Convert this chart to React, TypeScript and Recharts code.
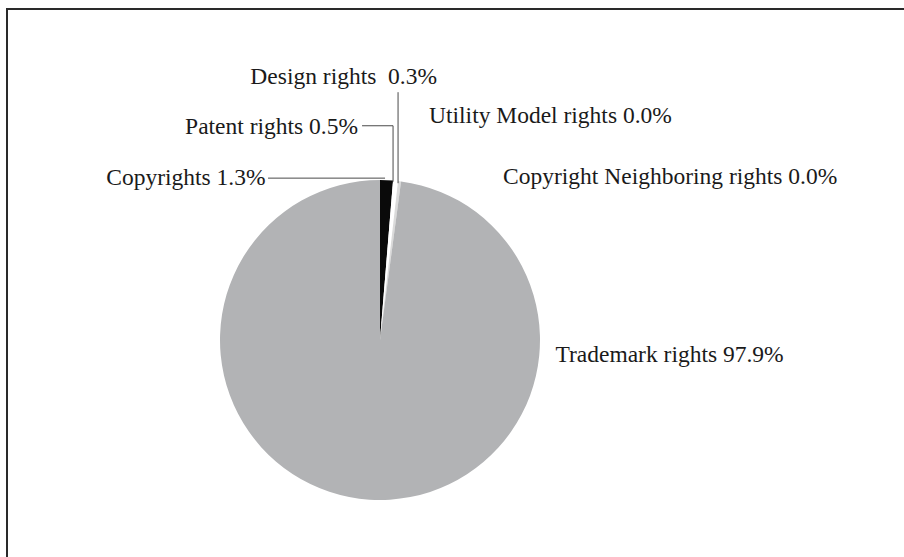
import { PieChart, Pie, Cell } from 'recharts';

const names = [
  'Copyrights',
  'Patent rights',
  'Design rights',
  'Utility Model rights',
  'Copyright Neighboring rights',
  'Trademark rights',
];
const shares = [1.3, 0.5, 0.3, 0.0, 0.0, 97.9];
const labelTexts = [
  'Copyrights 1.3%',
  'Patent rights 0.5%',
  'Design rights  0.3%',
  'Utility Model rights 0.0%',
  'Copyright Neighboring rights 0.0%',
  'Trademark rights 97.9%',
];
const colors = ['#0a0a0a', '#ffffff', '#dadada', '#c8c8c8', '#c8c8c8', '#b2b3b5'];

// label placement, relative to the point where the slice meets the rim
// line: leader path points (dx, dy); text: anchor point + alignment
const layout = [
  { line: [[-1.5, -2], [-118.5, -2]], tx: -121, ty: 5, anchor: 'end' },
  { line: [[-2.5, 1], [-2.5, -55], [-33.5, -55]], tx: -37.5, ty: -47, anchor: 'end' },
  { line: [[-1.5, 2], [-1.5, -89]], tx: 37.5, ty: -97, anchor: 'end' },
  { line: null, tx: 28, ty: -58, anchor: 'start' },
  { line: null, tx: 102, ty: 3, anchor: 'start' },
  { line: null, tx: 186, ty: -138, anchor: 'start' },
];

const data = names.map((name, i) => ({ name, value: shares[i] }));

const RAD = Math.PI / 180;

const renderLabel = (props: any) => {
  const { cx, cy, midAngle, outerRadius, index } = props;
  const ex = cx + outerRadius * Math.cos(-midAngle * RAD);
  const ey = cy + outerRadius * Math.sin(-midAngle * RAD);
  const l = layout[index];
  const pts = l.line ? l.line.map(([dx, dy]) => `${ex + dx},${ey + dy}`).join(' ') : null;
  return (
    <g key={`lbl-${index}`}>
      {pts && <polyline points={pts} fill="none" stroke="#4a4a4a" strokeWidth={1} />}
      <text
        x={ex + l.tx}
        y={ey + l.ty}
        textAnchor={l.anchor as any}
        fill="#1a1a1a"
        fontSize={23.5}
        fontFamily='"Liberation Serif", serif'
        style={{ whiteSpace: 'pre' }}
      >
        {labelTexts[index]}
      </text>
    </g>
  );
};

export default function App() {
  return (
    <div style={{ position: 'fixed', left: 0, top: 0, width: 904, height: 557, overflow: 'hidden', background: '#fff' }}>
      <div style={{ position: 'absolute', left: 6, top: 8, width: 2000, height: 2000, border: '2px solid #2a2a2a' }} />
      <div style={{ position: 'absolute', left: 0, top: 0 }}>
        <PieChart width={904} height={557} margin={{ top: 0, right: 0, bottom: 0, left: 0 }}>
          <Pie
            data={data}
            dataKey="value"
            nameKey="name"
            cx={380}
            cy={340}
            outerRadius={160}
            startAngle={90}
            endAngle={-270}
            stroke="none"
            label={renderLabel}
            labelLine={false}
            isAnimationActive={false}
          >
            {data.map((d, i) => (
              <Cell key={d.name} fill={colors[i]} />
            ))}
          </Pie>
        </PieChart>
      </div>
    </div>
  );
}
